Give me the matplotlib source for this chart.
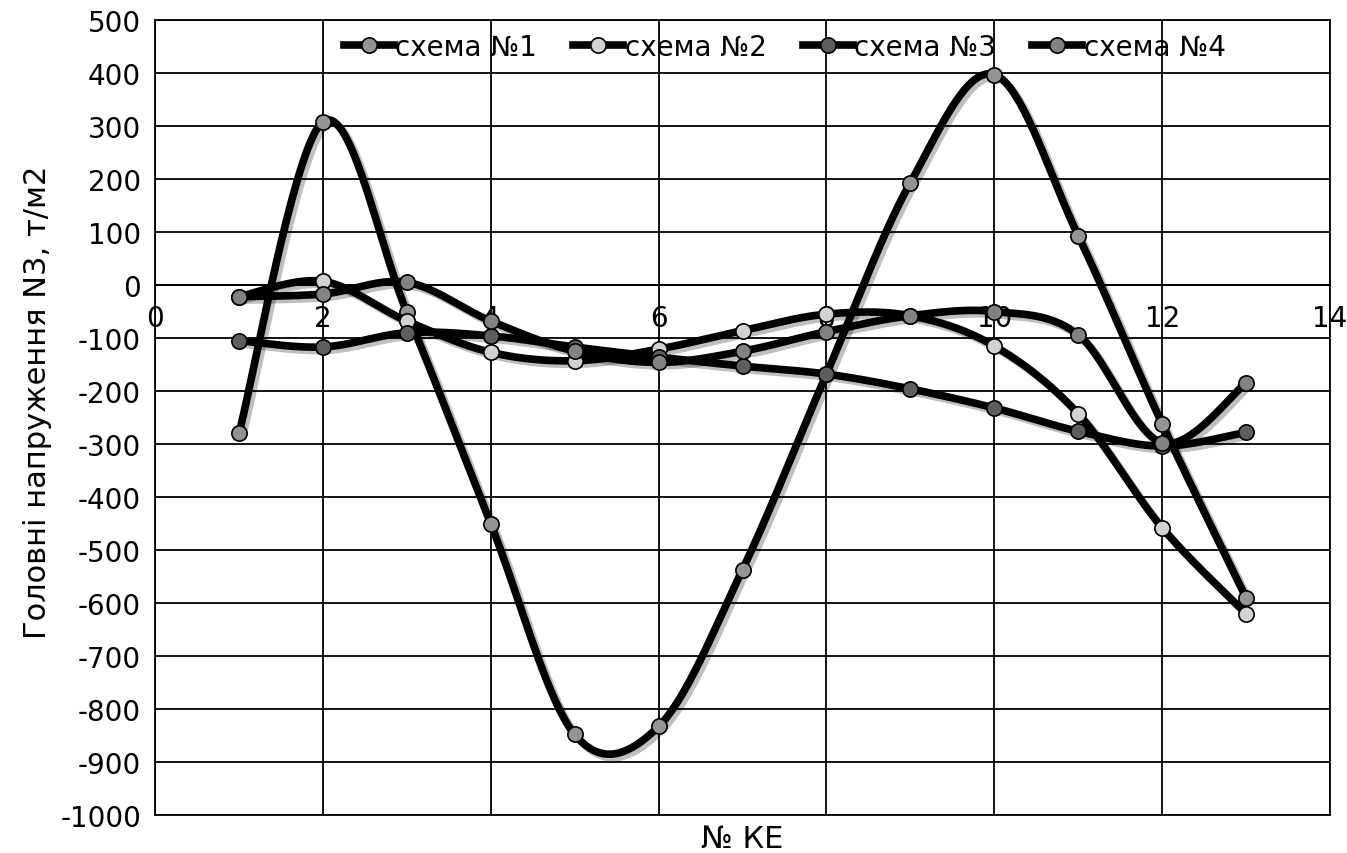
import numpy as np
import matplotlib
matplotlib.use("Agg")
import matplotlib.pyplot as plt
from matplotlib import patheffects as pe

plt.rcParams['font.family'] = ['DejaVu Sans']
plt.rcParams['axes.unicode_minus'] = False

x_ke = [1, 2, 3, 4, 5, 6, 7, 8, 9, 10, 11, 12, 13]
scheme1 = [-280, 308, -51, -450, -848, -833, -537, -168, 193, 397, 93, -262, -590]
scheme2 = [-22, 7, -68, -127, -143, -121, -86, -55, -58, -115, -243, -458, -620]
scheme3 = [-105, -117, -90, -96, -117, -136, -153, -168, -196, -232, -276, -304, -278]
scheme4 = [-22, -17, 5, -68, -125, -146, -125, -88, -58, -50, -94, -298, -185]

labels = ['схема №1', 'схема №2', 'схема №3', 'схема №4']
marker_colors = ['#949494', '#d2d2d2', '#5e5e5e', '#828282']
series = [scheme1, scheme2, scheme3, scheme4]

x_ticks = [0, 2, 4, 6, 8, 10, 12, 14]
y_ticks = list(range(-1000, 501, 100))


def smooth(xs, ys, n=40):
    xs = np.asarray(xs, float)
    ys = np.asarray(ys, float)
    P = np.column_stack([xs, ys])
    ext = np.vstack([P[0], P, P[-1]])
    out = []
    t = np.linspace(0, 1, n)
    for i in range(len(P) - 1):
        p0 = P[i]
        p3 = P[i + 1]
        p1 = p0 + (ext[i + 2] - ext[i]) / 6.0
        p2 = p3 - (ext[i + 3] - ext[i + 1]) / 6.0
        seg = ((1 - t) ** 3)[:, None] * p0 + (3 * (1 - t) ** 2 * t)[:, None] * p1 \
            + (3 * (1 - t) * t ** 2)[:, None] * p2 + (t ** 3)[:, None] * p3
        out.append(seg if i == 0 else seg[1:])
    c = np.vstack(out)
    return c[:, 0], c[:, 1]


W, H = 1347, 854
fig = plt.figure(figsize=(W / 100, H / 100), dpi=100)
L, R, T, B = 155, 1330, 21, 816
ax = fig.add_axes([L / W, 1 - B / H, (R - L) / W, (B - T) / H])

ax.set_xlim(0, 14)
ax.set_ylim(-1000, 500)
ax.set_xticks(x_ticks)
ax.set_yticks(y_ticks)
ax.set_yticklabels([str(v) for v in y_ticks])
ax.grid(True, color='black', linewidth=1.3)
ax.set_axisbelow(True)
for s in ['left', 'right', 'top']:
    ax.spines[s].set_linewidth(1.3)
ax.spines['bottom'].set_position(('data', 0))
ax.spines['bottom'].set_linewidth(1.3)
ax.axhline(-1000, color='black', linewidth=1.3, clip_on=False)
ax.tick_params(axis='both', length=0, labelsize=20)
ax.tick_params(axis='x', pad=14)
ax.tick_params(axis='y', pad=10)

shadow = [pe.SimpleLineShadow(offset=(2.5, -2.5), shadow_color='black', alpha=0.25),
          pe.Normal()]

handles = []
for k, (ys, lab, mc) in enumerate(zip(series, labels, marker_colors)):
    sx, sy = smooth(x_ke, ys)
    ax.plot(sx, sy, color='black', linewidth=5.5, solid_capstyle='round',
            path_effects=shadow, zorder=3 + k)
    ax.plot(x_ke, ys, linestyle='none', marker='o', markersize=11,
            markerfacecolor=mc, markeredgecolor='black', markeredgewidth=1.2,
            zorder=3 + k)
    h, = ax.plot([], [], color='black', linewidth=5.5, marker='o', markersize=11,
                 markerfacecolor=mc, markeredgecolor='black', markeredgewidth=1.2)
    handles.append(h)

leg = ax.legend(handles, labels, loc='center', bbox_to_anchor=(0.536, 0.966),
                ncol=4, frameon=False, fontsize=20, handlelength=1.8,
                handletextpad=0.05, columnspacing=1.3, borderaxespad=0)
leg.set_zorder(20)

fig.text(38 / W, 1 - 402 / H, 'Головні напруження N3, т/м2', rotation=90,
         ha='center', va='center', fontsize=22)
fig.text(742 / W, 1 - 840 / H, '№ КЕ', ha='center', va='center', fontsize=22)

fig.savefig('out.png', dpi=100)
